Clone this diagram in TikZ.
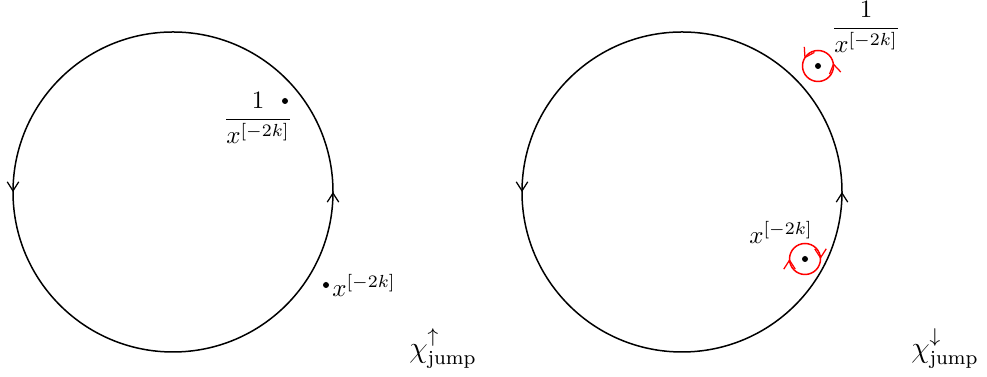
\documentclass[tikz,border=0pt]{standalone}
\usepackage{amsmath}
\usetikzlibrary{decorations.markings,arrows.meta}
\tikzset{
  tip/.tip={Straight Barb[length=3.6pt,width=4.6pt,line width=0.5pt]},
  bigloop/.style={semithick, postaction={decorate}, decoration={markings,
    mark=at position 0.25 with {\arrow{tip}}, mark=at position 0.75 with {\arrow{tip}}}},
  loopccw/.style={red, semithick, postaction={decorate}, decoration={markings,
    mark=at position 0.28 with {\arrow{tip}}, mark=at position 0.67 with {\arrow{tip}}}},
  loopcw/.style={red, semithick, postaction={decorate}, decoration={markings,
    mark=at position 0.25 with {\arrow{tip}}, mark=at position 0.75 with {\arrow{tip}}}},
  pt/.style={circle, fill=black, inner sep=0pt, minimum size=2.4pt},
  lab/.style={inner sep=0pt}
}
\begin{document}
\begin{tikzpicture}[x=0.4pt, y=0.4pt]
\useasboundingbox (0,0) rectangle (987,377);
% left circle
\coordinate (cl) at (173,185);
\draw[bigloop] (cl) ++(-90:160) arc[start angle=-90, end angle=270, radius=160];
\node[pt] (p1) at (285,276) {};
\node[lab] (l1) at (258,259) {$\dfrac{1}{x^{[-2k]}}$};
\node[pt] (p2) at (326,92) {};
\node[lab] (l2) at (364,92) {$x^{[-2k]}$};
\node[lab] (chi1) at (443,28) {\large$\chi^{\uparrow}_{\text{jump}}$};
% right circle
\coordinate (cr) at (682,185);
\draw[bigloop] (cr) ++(-90:160) arc[start angle=-90, end angle=270, radius=160];
\node[pt] (p3) at (818,311) {};
\draw[loopccw] (p3.center) ++(-90:15.5) arc[start angle=-90, end angle=270, radius=15.5];
\node[lab] (l3) at (866,350) {$\dfrac{1}{x^{[-2k]}}$};
\node[pt] (p4) at (805,118) {};
\draw[loopcw] (p4.center) ++(-90:15.5) arc[start angle=-90, end angle=-450, radius=15.5];
\node[lab] (l4) at (781,145) {$x^{[-2k]}$};
\node[lab] (chi2) at (945,28) {\large$\chi^{\downarrow}_{\text{jump}}$};
\end{tikzpicture}
\end{document}
